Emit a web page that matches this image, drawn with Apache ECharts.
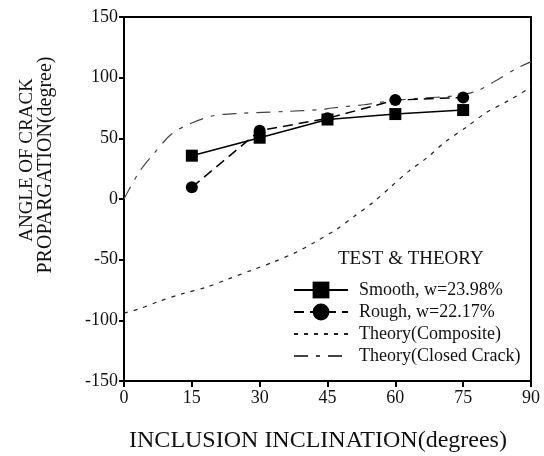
<!DOCTYPE html>
<html><head><meta charset="utf-8">
<script src="https://cdn.jsdelivr.net/npm/echarts@6/dist/echarts.min.js"></script>
<style>html,body{margin:0;padding:0;background:#fff}#c{width:544px;height:456px}</style>
</head><body><div id="c"></div>
<script>
// Data
const inclination = [15, 30, 45, 60, 75];
const smoothAngle = [35.7, 50.5, 65.5, 70, 73.3];
const roughAngle = [9.6, 56.3, 66.5, 81.5, 83.7];
const compositeX = [0, 3, 8, 13, 18, 23, 28, 33, 38, 42, 47, 51, 55, 59, 63, 67, 71, 76, 80, 85, 90];
const compositeY = [-94, -91, -84, -78, -73, -66, -59, -52, -44, -36, -25, -14, -3, 10, 23, 34, 47, 60, 71, 81, 92];
const closedX = [0, 1, 3.5, 6.5, 10.5, 14.6, 19.7, 25.6, 36, 43, 46, 53, 58, 65, 73, 78, 82, 87, 90];
const closedY = [0, 7, 23, 37, 53.5, 62, 68.6, 70.6, 72.2, 73.5, 75, 77.7, 80.4, 83, 85, 89, 97, 108, 113];
const seriesNames = ['Smooth, w=23.98%', 'Rough, w=22.17%', 'Theory(Composite)', 'Theory(Closed Crack)'];

const zip = (xs, ys) => xs.map((x, i) => [x, ys[i]]);
const FONT = 'Liberation Serif';
const chart = echarts.init(document.getElementById('c'), null, {renderer: 'canvas'});
chart.setOption({
  animation: false,
  backgroundColor: '#fff',
  grid: {left: 124, right: 13, top: 17, bottom: 75, show: true, borderColor: '#000', borderWidth: 2},
  title: {
    text: 'TEST & THEORY', left: 333, top: 245,
    textStyle: {fontFamily: FONT, fontSize: 19, fontWeight: 'normal', color: '#111'}
  },
  legend: {
    left: 288, top: 276, orient: 'vertical',
    itemWidth: 54, itemHeight: 21, itemGap: 4,
    textStyle: {fontFamily: FONT, fontSize: 18, color: '#111', padding: [0, 0, 0, 6]},
    data: [
      {name: seriesNames[0]},
      {name: seriesNames[1]},
      {name: seriesNames[2], itemStyle: {opacity: 0}},
      {name: seriesNames[3], itemStyle: {opacity: 0}}
    ]
  },
  xAxis: {
    type: 'value', min: 0, max: 90, interval: 15,
    axisLine: {onZero: false, lineStyle: {color: '#000', width: 2}},
    axisTick: {show: true, inside: false, length: 6, lineStyle: {color: '#000', width: 2}},
    axisLabel: {fontFamily: FONT, fontSize: 18, color: '#111', margin: 8},
    splitLine: {show: false}
  },
  yAxis: {
    type: 'value', min: -150, max: 150, interval: 50,
    axisLine: {show: true, onZero: false, lineStyle: {color: '#000', width: 2}},
    axisTick: {show: true, inside: false, length: 5, lineStyle: {color: '#000', width: 2}},
    axisLabel: {fontFamily: FONT, fontSize: 18, color: '#111', margin: 6},
    splitLine: {show: false}
  },
  graphic: [
    {type: 'text', x: 27, y: 160, rotation: Math.PI / 2,
     style: {text: 'ANGLE OF CRACK', font: '19px "Liberation Serif"', fill: '#111', textAlign: 'center', textVerticalAlign: 'middle'}},
    {type: 'text', x: 46, y: 165, rotation: Math.PI / 2,
     style: {text: 'PROPARGATION(degree)', font: '20px "Liberation Serif"', fill: '#111', textAlign: 'center', textVerticalAlign: 'middle'}},
    {type: 'text', x: 318, y: 441,
     style: {text: 'INCLUSION INCLINATION(degrees)', font: '24px "Liberation Serif"', fill: '#111', textAlign: 'center', textVerticalAlign: 'middle'}}
  ],
  series: [
    {name: seriesNames[0], type: 'line', data: zip(inclination, smoothAngle),
     symbol: 'rect', symbolSize: 12, itemStyle: {color: '#000'},
     lineStyle: {color: '#000', width: 1.5, type: 'solid'}, z: 5},
    {name: seriesNames[1], type: 'line', data: zip(inclination, roughAngle),
     symbol: 'circle', symbolSize: 12, itemStyle: {color: '#000'},
     lineStyle: {color: '#000', width: 1.5, type: [10, 6]}, z: 5},
    {name: seriesNames[2], type: 'line', data: zip(compositeX, compositeY),
     symbol: 'none', smooth: 0.3, itemStyle: {color: '#222'},
     lineStyle: {color: '#222', width: 1.2, type: [4, 6]}},
    {name: seriesNames[3], type: 'line', data: zip(closedX, closedY),
     symbol: 'none', smooth: 0.3, itemStyle: {color: '#444'},
     lineStyle: {color: '#444', width: 1.2, type: [14, 8, 4, 8]}}
  ]
});
</script></body></html>
